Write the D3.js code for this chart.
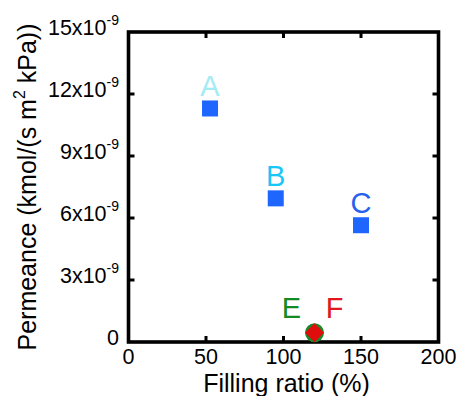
<!DOCTYPE html>
<html>
<head>
<meta charset="utf-8">
<script src="https://cdn.jsdelivr.net/npm/d3@7"></script>
<style>
  body { margin: 0; background: #fff; }
  text { font-family: "Liberation Sans", Arial, sans-serif; }
</style>
</head>
<body>
<svg width="459" height="396"></svg>
<script>
// data
var labels = ["A", "B", "C", "E", "F"];
var fillRatio = [52.6, 95, 150, 120, 120];
var permeance = [11.3e-9, 6.95e-9, 5.65e-9, 0.45e-9, 0.45e-9];
var markers = ["square", "square", "square", "circle", "diamond"];
var labelColors = ["#a3ecf3", "#18c6f7", "#2563ec", "#138a22", "#e0171d"];
var xTicks = [0, 50, 100, 150, 200];
var yTicks = [0, 3, 6, 9, 12, 15];

var svg = d3.select("svg"),
  margin = {top: 32, right: 20.5, bottom: 54, left: 128.5},
  width = +svg.attr("width"),
  height = +svg.attr("height");

var x = d3.scaleLinear().domain([0, 200]).range([margin.left, width - margin.right]);
var y = d3.scaleLinear().domain([0, 15e-9]).range([height - margin.bottom, margin.top]);

var tickLen = 6, frameW = 3.6;

// ticks on all four sides, pointing inward
var g = svg.append("g");
g.selectAll(".xt").data(xTicks.slice(1, -1)).enter().append("line")
  .attr("x1", d => x(d)).attr("x2", d => x(d))
  .attr("y1", y(0)).attr("y2", y(0) - tickLen)
  .attr("stroke", "#000").attr("stroke-width", 3);
g.selectAll(".xt2").data(xTicks.slice(1, -1)).enter().append("line")
  .attr("x1", d => x(d)).attr("x2", d => x(d))
  .attr("y1", y(15e-9)).attr("y2", y(15e-9) + tickLen)
  .attr("stroke", "#000").attr("stroke-width", 3);
g.selectAll(".yt").data(yTicks.slice(1, -1)).enter().append("line")
  .attr("x1", x(0)).attr("x2", x(0) + tickLen)
  .attr("y1", d => y(d * 1e-9)).attr("y2", d => y(d * 1e-9))
  .attr("stroke", "#000").attr("stroke-width", 3);
g.selectAll(".yt2").data(yTicks.slice(1, -1)).enter().append("line")
  .attr("x1", x(200)).attr("x2", x(200) - tickLen)
  .attr("y1", d => y(d * 1e-9)).attr("y2", d => y(d * 1e-9))
  .attr("stroke", "#000").attr("stroke-width", 3);

svg.append("rect")
  .attr("x", x(0)).attr("y", y(15e-9))
  .attr("width", x(200) - x(0)).attr("height", y(0) - y(15e-9))
  .attr("fill", "none").attr("stroke", "#000").attr("stroke-width", frameW);

// x tick labels
svg.selectAll(".xl").data(xTicks).enter().append("text")
  .attr("x", d => x(d)).attr("y", y(0) + 22)
  .attr("text-anchor", "middle").attr("font-size", 21.5)
  .text(d => d);

// y tick labels
var yl = svg.selectAll(".yl").data(yTicks).enter().append("text")
  .attr("x", 119).attr("y", d => y(d * 1e-9) + 3)
  .attr("text-anchor", "end").attr("font-size", 21.5);
yl.each(function(d) {
  var t = d3.select(this);
  if (d === 0) { t.text("0"); return; }
  t.append("tspan").text(d + "x10");
  t.append("tspan").attr("dy", -10).attr("font-size", 14).text("-9");
});

// axis titles
svg.append("text")
  .attr("x", (x(0) + x(200)) / 2 + 3).attr("y", 391.5)
  .attr("text-anchor", "middle").attr("font-size", 25)
  .text("Filling ratio (%)");

var yt = svg.append("text")
  .attr("transform", "translate(36," + 187 + ") rotate(-90)")
  .attr("text-anchor", "middle").attr("font-size", 25);
yt.append("tspan").text("Permeance (kmol/(s m");
yt.append("tspan").attr("dy", -11).attr("font-size", 16).text("2");
yt.append("tspan").attr("dy", 11).text(" kPa))");

// points
var pts = labels.map((l, i) => ({label: l, x: fillRatio[i], y: permeance[i], m: markers[i], c: labelColors[i]}));
var s = 16;
svg.selectAll(".sq").data(pts.filter(d => d.m === "square")).enter().append("rect")
  .attr("x", d => x(d.x) - s / 2).attr("y", d => y(d.y) - s / 2)
  .attr("width", s).attr("height", s).attr("fill", "#1f66ff");
svg.selectAll(".ci").data(pts.filter(d => d.m === "circle")).enter().append("circle")
  .attr("cx", d => x(d.x)).attr("cy", d => y(d.y)).attr("r", 9.5)
  .attr("fill", "#1b8a2b");
svg.selectAll(".di").data(pts.filter(d => d.m === "diamond")).enter().append("path")
  .attr("d", d => {
    var cx = x(d.x), cy = y(d.y), r = 9.5;
    return "M" + cx + "," + (cy - r) + "L" + (cx + r) + "," + cy + "L" + cx + "," + (cy + r) + "L" + (cx - r) + "," + cy + "Z";
  })
  .attr("fill", "#e00d0d");

// point labels
var labelOffset = {A: [0, -12], B: [0, -12], C: [0, -12], E: [-23, -15], F: [20, -15]};
svg.selectAll(".pl").data(pts).enter().append("text")
  .attr("x", d => x(d.x) + labelOffset[d.label][0])
  .attr("y", d => y(d.y) + labelOffset[d.label][1])
  .attr("text-anchor", "middle").attr("font-size", 29)
  .attr("fill", d => d.c)
  .text(d => d.label);
</script>
</body>
</html>
